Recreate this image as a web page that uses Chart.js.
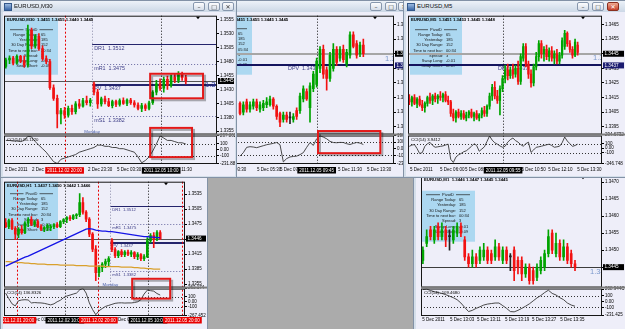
<!DOCTYPE html>
<html><head><meta charset="utf-8">
<script src="https://cdn.jsdelivr.net/npm/chart.js@4.4.1/dist/chart.umd.min.js"></script>
<style>
html,body{margin:0;padding:0}
body{width:625px;height:329px;overflow:hidden;background:#ababab;position:relative}
.win{position:absolute;background:#d5dfea;box-shadow:inset 0 0 0 1px #8392a6;overflow:hidden}
.tb{position:absolute;left:1px;right:1px;top:1px;height:11px;background:linear-gradient(#edf2f8,#ccd8e6);font:6px "Liberation Sans",Arial,sans-serif;color:#111;line-height:11px}
.ic{position:absolute;left:3px;top:2px;width:6px;height:6px;background:linear-gradient(#9ab9e0,#3a67a8);border:1px solid #34588a}
.tt{position:absolute;left:13px;top:0}
.btn{position:absolute;top:1px;width:12px;height:9px;border:1px solid #8797ad;border-radius:2px;background:linear-gradient(#fdfdfe,#d5dde8);box-sizing:border-box;font:6px "DejaVu Sans",sans-serif;text-align:center;line-height:7px;color:#333}
.btn.cl{background:linear-gradient(#f0aa92,#c6402a);border-color:#8a2f20;color:#fff}
canvas{position:absolute;background:#eeeef9}
</style></head>
<body>
<div class="win" id="w2" style="left:180px;top:0;width:231px;height:178px;z-index:1">
 <div class="tb"><span class="ic"></span><span class="tt">EURUSD,M15</span>
 <span class="btn" style="left:189px">&#8211;</span><span class="btn" style="left:204px">&#9633;</span><span class="btn" style="left:217px">&#10005;</span></div>
 <canvas id="c2" width="213" height="164" style="left:18px;top:12px;width:213px;height:164px"></canvas>
</div>
<div class="win" id="w1" style="left:0;top:0;width:237px;height:178px;z-index:3">
 <div class="tb"><span class="ic"></span><span class="tt">EURUSD,M30</span>
 <span class="btn" style="left:192px">&#8211;</span><span class="btn" style="left:207px">&#9633;</span><span class="btn" style="left:221px">&#10005;</span></div>
 <canvas id="c1" width="232" height="164" style="left:3px;top:12px;width:232px;height:164px"></canvas>
</div>
<div class="win" id="w3" style="left:403px;top:0;width:224px;height:178px;z-index:3">
 <div class="tb"><span class="ic"></span><span class="tt">EURUSD,M5</span>
 <span class="btn" style="left:173px">&#8211;</span><span class="btn" style="left:188px">&#9633;</span><span class="btn cl" style="left:203px">&#10005;</span></div>
 <canvas id="c3" width="219" height="164" style="left:3px;top:12px;width:219px;height:164px"></canvas>
</div>
<div class="win" id="w4" style="left:0;top:165px;width:208px;height:170px;z-index:1">
 <div class="tb"><span class="ic"></span><span class="tt">EURUSD,H1</span></div>
 <canvas id="c4" width="204" height="151" style="left:3px;top:13px;width:204px;height:151px"></canvas>
</div>
<div class="win" id="w5" style="left:413px;top:160px;width:214px;height:175px;z-index:1">
 <div class="tb"><span class="ic"></span><span class="tt">EURUSD,M1</span></div>
 <canvas id="c5" width="209" height="157" style="left:3px;top:12px;width:209px;height:157px"></canvas>
</div>
<script>
// ---------------- DATA ----------------
const INFO_LABELS = ['Range Today:','Yesterday:','30 Day Range:','Time to next bar:','Spread:','Swap Long:','Swap Short:'];
const PIVOT_NAMES = ['DR1','mR1','PV','mS1'];
const PIVOT_VALUES = [1.3512,1.3475,1.3437,1.3382];
const DPV_VALUE = 1.3437;

// M30 window
const M30_OHLC = [
[1.3471,1.3486,1.3468,1.3483],[1.3483,1.3490,1.3476,1.3486],[1.3486,1.3489,1.3474,1.3477],[1.3477,1.3492,1.3475,1.3489],
[1.3489,1.3491,1.3478,1.3481],[1.3481,1.3490,1.3470,1.3474],[1.3474,1.3545,1.3470,1.3536],[1.3536,1.3540,1.3503,1.3508],
[1.3508,1.3528,1.3504,1.3525],[1.3525,1.3530,1.3500,1.3503],[1.3503,1.3508,1.3482,1.3485],[1.3485,1.3490,1.3476,1.3480],
[1.3480,1.3484,1.3430,1.3433],[1.3433,1.3438,1.3410,1.3414],[1.3414,1.3420,1.3361,1.3386],[1.3386,1.3396,1.3368,1.3392],
[1.3392,1.3398,1.3378,1.3384],[1.3384,1.3400,1.3380,1.3396],[1.3396,1.3402,1.3385,1.3390],[1.3390,1.3408,1.3386,1.3404],
[1.3404,1.3412,1.3396,1.3400],[1.3400,1.3414,1.3398,1.3410],[1.3410,1.3418,1.3402,1.3406],[1.3406,1.3414,1.3400,1.3411],
[1.3440,1.3443,1.3420,1.3425],[1.3425,1.3430,1.3396,1.3404],[1.3404,1.3416,1.3400,1.3413],[1.3413,1.3418,1.3404,1.3408],
[1.3408,1.3414,1.3399,1.3401],[1.3401,1.3411,1.3397,1.3408],[1.3408,1.3411,1.3399,1.3403],[1.3403,1.3413,1.3400,1.3410],
[1.3410,1.3415,1.3403,1.3405],[1.3405,1.3413,1.3401,1.3411],[1.3411,1.3414,1.3403,1.3406],[1.3406,1.3410,1.3398,1.3402],
[1.3402,1.3406,1.3393,1.3396],[1.3396,1.3405,1.3390,1.3401],[1.3401,1.3404,1.3392,1.3396],[1.3396,1.3409,1.3393,1.3406],
[1.3406,1.3428,1.3403,1.3425],[1.3425,1.3446,1.3420,1.3440],[1.3440,1.3449,1.3428,1.3432],[1.3432,1.3452,1.3425,1.3448],
[1.3448,1.3454,1.3430,1.3437],[1.3437,1.3456,1.3434,1.3452],[1.3452,1.3458,1.3442,1.3446],[1.3446,1.3462,1.3442,1.3457],
[1.3457,1.3461,1.3446,1.3451],[1.3451,1.3455,1.3440,1.3445]];
const M30_CCI = [160,160,150,150,140,160,230,220,140,80,20,-40,-120,-200,-232,-160,-140,-120,-100,-80,
-40,-20,0,20,40,80,80,60,60,40,40,20,20,0,-20,-40,-120,-220,-180,-120,-20,100,237,200,160,160,140,120,120,100];
const M30_PRICE_TICKS = [1.3555,1.3530,1.3505,1.3480,1.3455,1.3430,1.3405,1.3380,1.3355];
const M30_CCI_TICKS = [237.8625,100,0,-100,-231.889];
const M30_CCI_LABELS = ['237.8625','100','0.00','-100','-231.889'];
const M30_INFO = ['65','185','152','20:34','3','-0.01','-0.09'];
const M30_TIME_TEXT = ['2 Dec 2011','2 Dec 15:30','2 Dec 23:30','5 Dec 03:30','5 Dec 11:30'];
const M30_TIME_POS = [-0.25,7.1,22.4,30.3,44.2];
const M30_CROSS_TEXT = ['2011.12.02 20:00','2011.12.05 10:00'];

// M15 window
const M15_OHLC = [
[1.3411,1.3412,1.3403,1.3404],[1.3405,1.3412,1.3403,1.3410],[1.3412,1.3414,1.3405,1.3407],[1.3407,1.3412,1.3405,1.3410],
[1.3409,1.3414,1.3407,1.3412],[1.3412,1.3414,1.3406,1.3408],[1.3407,1.3412,1.3405,1.3410],[1.3408,1.3413,1.3406,1.3411],
[1.3410,1.3415,1.3408,1.3412],[1.3410,1.3416,1.3409,1.3414],[1.3414,1.3415,1.3407,1.3409],[1.3409,1.3410,1.3400,1.3402],
[1.3404,1.3405,1.3395,1.3398],[1.3400,1.3405,1.3398,1.3403],[1.3403,1.3405,1.3398,1.3400],[1.3401,1.3405,1.3397,1.3401],
[1.3400,1.3404,1.3398,1.3402],[1.3406,1.3408,1.3400,1.3402],[1.3406,1.3418,1.3404,1.3416],[1.3414,1.3423,1.3412,1.3421],
[1.3419,1.3421,1.3413,1.3414],[1.3408,1.3425,1.3398,1.3423],[1.3421,1.3433,1.3419,1.3431],[1.3424,1.3442,1.3422,1.3440],
[1.3435,1.3450,1.3432,1.3448],[1.3448,1.3451,1.3428,1.3431],[1.3434,1.3436,1.3420,1.3428],[1.3428,1.3446,1.3426,1.3444],
[1.3435,1.3452,1.3433,1.3448],[1.3448,1.3450,1.3437,1.3439],[1.3442,1.3450,1.3440,1.3448],[1.3448,1.3451,1.3439,1.3441],
[1.3438,1.3448,1.3436,1.3446],[1.3444,1.3460,1.3442,1.3458],[1.3458,1.3460,1.3449,1.3450],[1.3452,1.3454,1.3442,1.3444],
[1.3445,1.3453,1.3443,1.3451],[1.3451,1.3455,1.3443,1.3445]];
const M15_CCI = [-113,-60,20,30,25,15,30,45,60,70,80,93,60,-200,-150,-125,-118,-113,-90,-60,
20,93,50,150,196,175,150,110,93,90,95,93,75,63,80,93,85,63];
const M15_PRICE_TICKS = [1.3465,1.3455,1.3445,1.3435,1.3425,1.3415,1.3405,1.3395];
const M15_CCI_TICKS = [196.1012,100,0,-100,-231.508];
const M15_CCI_LABELS = ['196.1012','100','0.00','-100','-231.508'];
const M15_INFO = ['65','185','152','05:34','3','-0.01','-0.09'];
const M15_TIME_TEXT = ['5 Dec 03:30','5 Dec 05:30','5 Dec 07:30','5 Dec 11:30','5 Dec 13:30'];
const M15_TIME_POS = [-5.4,5.1,12,29.4,38.1];
const M15_CROSS_TEXT = ['2011.12.05 09:45'];

// M5 window
const M5_OHLC = [
[1.3414,1.3417,1.3410,1.3412],[1.3412,1.3416,1.3409,1.3415],[1.3415,1.3417,1.3410,1.3411],[1.3411,1.3415,1.3408,1.3414],
[1.3414,1.3416,1.3409,1.3410],[1.3410,1.3413,1.3406,1.3408],[1.3408,1.3412,1.3405,1.3411],[1.3411,1.3416,1.3409,1.3415],
[1.3415,1.3418,1.3411,1.3413],[1.3413,1.3417,1.3410,1.3416],[1.3416,1.3418,1.3412,1.3414],[1.3414,1.3417,1.3411,1.3416],
[1.3416,1.3419,1.3413,1.3415],[1.3415,1.3418,1.3412,1.3417],[1.3417,1.3419,1.3412,1.3413],[1.3413,1.3416,1.3410,1.3412],
[1.3412,1.3413,1.3402,1.3404],[1.3404,1.3407,1.3399,1.3401],[1.3401,1.3406,1.3398,1.3405],[1.3405,1.3407,1.3401,1.3402],
[1.3402,1.3406,1.3400,1.3404],[1.3404,1.3406,1.3400,1.3401],[1.3401,1.3405,1.3399,1.3403],[1.3403,1.3406,1.3401,1.3405],
[1.3405,1.3407,1.3401,1.3402],[1.3402,1.3405,1.3399,1.3404],[1.3404,1.3406,1.3400,1.3401],[1.3401,1.3404,1.3399,1.3403],
[1.3403,1.3408,1.3401,1.3406],[1.3406,1.3409,1.3402,1.3404],[1.3404,1.3410,1.3402,1.3409],[1.3409,1.3418,1.3407,1.3416],
[1.3416,1.3424,1.3413,1.3422],[1.3422,1.3426,1.3414,1.3416],[1.3416,1.3420,1.3411,1.3413],[1.3413,1.3423,1.3403,1.3421],
[1.3421,1.3430,1.3419,1.3428],[1.3428,1.3437,1.3425,1.3434],[1.3434,1.3438,1.3427,1.3430],[1.3430,1.3436,1.3428,1.3434],
[1.3434,1.3438,1.3428,1.3431],[1.3431,1.3437,1.3429,1.3435],[1.3435,1.3440,1.3424,1.3426],[1.3426,1.3445,1.3424,1.3443],
[1.3442,1.3452,1.3440,1.3450],[1.3450,1.3452,1.3436,1.3438],[1.3438,1.3440,1.3428,1.3431],[1.3431,1.3434,1.3422,1.3425],
[1.3425,1.3438,1.3423,1.3436],[1.3436,1.3446,1.3434,1.3443],[1.3443,1.3454,1.3440,1.3452],[1.3452,1.3454,1.3442,1.3445],
[1.3445,1.3450,1.3440,1.3448],[1.3448,1.3451,1.3441,1.3443],[1.3443,1.3449,1.3440,1.3447],[1.3447,1.3450,1.3440,1.3442],
[1.3442,1.3447,1.3438,1.3445],[1.3445,1.3448,1.3438,1.3440],[1.3440,1.3446,1.3438,1.3444],[1.3444,1.3456,1.3442,1.3454],
[1.3450,1.3461,1.3448,1.3459],[1.3459,1.3460,1.3450,1.3452],[1.3452,1.3454,1.3446,1.3448],[1.3448,1.3450,1.3442,1.3444],
[1.3444,1.3455,1.3443,1.3453],[1.3451,1.3453,1.3444,1.3446]];
const M5_CCI = [40,70,80,-10,-120,-100,40,100,130,60,20,30,40,50,70,90,-250,-320,-200,-150,
-120,-80,-60,-10,40,100,60,-70,-20,30,150,272,180,120,89,50,20,43,134,190,
226,170,134,80,43,100,134,-95,-40,20,30,43,60,75,89,60,20,30,43,120,249,160,100,40,60,89];
const M5_PRICE_TICKS = [1.3465,1.3455,1.3445,1.3435,1.3425,1.3415,1.3405,1.3395];
const M5_CCI_TICKS = [294.6732,100,0,-100,-346.748];
const M5_CCI_LABELS = ['294.6732','100','0.00','-100','-346.748'];
const M5_INFO = ['65','185','152','00:34','3','-0.01','-0.09'];
const M5_TIME_TEXT = ['5 Dec 2011','5 Dec 06:00','5 Dec 08:15','5 Dec 10:50','5 Dec 12:10','5 Dec 13:30'];
const M5_TIME_POS = [0.3,11.9,21.5,43.3,53.6,64.8];
const M5_CROSS_TEXT = ['2011.12.05 09:55'];

// H1 window
const H1_OHLC = [
[1.3478,1.3486,1.3468,1.3470],[1.3470,1.3485,1.3466,1.3482],[1.3482,1.3486,1.3464,1.3466],[1.3466,1.3470,1.3444,1.3455],
[1.3455,1.3468,1.3448,1.3465],[1.3465,1.3472,1.3455,1.3458],[1.3458,1.3480,1.3456,1.3477],[1.3477,1.3488,1.3470,1.3484],
[1.3484,1.3490,1.3472,1.3475],[1.3475,1.3482,1.3470,1.3480],[1.3480,1.3484,1.3468,1.3470],[1.3470,1.3474,1.3462,1.3465],
[1.3465,1.3470,1.3460,1.3468],[1.3468,1.3475,1.3462,1.3472],[1.3468,1.3474,1.3462,1.3470],[1.3470,1.3476,1.3466,1.3474],
[1.3474,1.3478,1.3468,1.3470],[1.3470,1.3482,1.3468,1.3480],[1.3480,1.3486,1.3476,1.3484],[1.3484,1.3490,1.3478,1.3488],
[1.3488,1.3492,1.3482,1.3486],[1.3486,1.3494,1.3484,1.3492],[1.3492,1.3496,1.3486,1.3494],[1.3494,1.3536,1.3490,1.3518],
[1.3518,1.3528,1.3495,1.3499],[1.3499,1.3502,1.3480,1.3485],[1.3485,1.3488,1.3450,1.3455],[1.3455,1.3458,1.3420,1.3425],
[1.3425,1.3432,1.3362,1.3378],[1.3378,1.3392,1.3370,1.3388],[1.3388,1.3398,1.3380,1.3395],[1.3395,1.3405,1.3388,1.3400],
[1.3400,1.3410,1.3392,1.3406],[1.3442,1.3446,1.3420,1.3424],[1.3424,1.3428,1.3408,1.3412],[1.3412,1.3422,1.3408,1.3420],
[1.3420,1.3424,1.3410,1.3414],[1.3414,1.3422,1.3410,1.3419],[1.3419,1.3423,1.3412,1.3415],[1.3415,1.3422,1.3410,1.3418],
[1.3418,1.3420,1.3406,1.3410],[1.3410,1.3418,1.3404,1.3414],[1.3414,1.3416,1.3402,1.3406],[1.3406,1.3414,1.3402,1.3410],
[1.3410,1.3448,1.3408,1.3442],[1.3442,1.3456,1.3438,1.3452],[1.3452,1.3458,1.3428,1.3445],[1.3445,1.3462,1.3442,1.3458],
[1.3458,1.3462,1.3444,1.3446]];
const H1_MA_BLUE = [1.3391,1.3394,1.3397,1.3400,1.3403,1.3406,1.3409,1.3411,1.3414,1.3417,1.3420,1.3423,1.3426,1.3429,1.3432,
1.3435,1.3438,1.3441,1.3444,1.3447,1.3450,1.3453,1.3456,1.3459,1.3462,1.3465,1.3466,1.3465,1.3463,1.3462,1.3461,1.3461,
1.3460,1.3460,1.3459,1.3458,1.3457,1.3456,1.3455,1.3454,1.3453,1.3452,1.3451,1.3450,1.3450,1.3449,1.3449,1.3448,1.3448];
const H1_MA_ORANGE = [1.3400,1.3400,1.3399,1.3399,1.3398,1.3398,1.3397,1.3397,1.3396,1.3396,1.3395,1.3395,1.3395,1.3394,1.3394,
1.3394,1.3394,1.3393,1.3393,1.3393,1.3393,1.3393,1.3392,1.3392,1.3392,1.3392,1.3391,1.3391,1.3391,1.3391,1.3391,1.3390,
1.3390,1.3390,1.3390,1.3390,1.3389,1.3389,1.3389,1.3389,1.3388,1.3388,1.3387,1.3387,1.3386,1.3386,1.3385,1.3385,1.3385];
const H1_CCI = [168,60,-40,-79,20,35,40,35,-22,-15,-20,-22,-30,-45,-60,-40,0,30,80,111,
130,150,168,230,263,168,-22,-150,-250,-174,-130,-90,-70,-50,-30,-22,-20,-25,-22,-22,-15,0,40,150,225,215,206,160,130];
const H1_PRICE_TICKS = [1.3535,1.3505,1.3475,1.3445,1.3415,1.3385,1.3355];
const H1_CCI_TICKS = [263.174,100,0,-100,-267.452];
const H1_CCI_LABELS = ['263.174','100','0.00','-100','-267.452'];
const H1_INFO = ['65','185','152','20:34','3','-0.01','-0.09'];
const H1_TIME_TEXT = ['2 Dec 01:00','5 Dec 00:00'];
const H1_TIME_POS = [7,33.7];
const H1_CROSS_TEXT = ['2011.12.01 20:00','2011.12.02 10:00','2011.12.02 20:00','2011.12.05 10:00','2011.12.05 20:00'];

// M1 window
const M1_OHLC = [
[1.3447,1.3451,1.3446,1.3450],[1.3452,1.3456,1.3451,1.3454],[1.3456,1.3457,1.3453,1.3454],[1.3453,1.3457,1.3452,1.3456],
[1.3457,1.3458,1.3453,1.3454],[1.3454,1.3458,1.3453,1.3456],[1.3456,1.3457,1.3451,1.3453],[1.3454,1.3456,1.3450,1.3454],
[1.3453,1.3457,1.3452,1.3456],[1.3455,1.3458,1.3454,1.3457],[1.3457,1.3458,1.3454,1.3455],[1.3453,1.3454,1.3447,1.3448],
[1.3448,1.3449,1.3445,1.3446],[1.3446,1.3450,1.3445,1.3448],[1.3448,1.3449,1.3445,1.3446],[1.3447,1.3451,1.3446,1.3450],
[1.3448,1.3452,1.3447,1.3450],[1.3450,1.3451,1.3446,1.3447],[1.3449,1.3450,1.3446,1.3447],[1.3448,1.3453,1.3447,1.3451],
[1.3451,1.3452,1.3447,1.3448],[1.3447,1.3451,1.3446,1.3450],[1.3450,1.3451,1.3446,1.3447],[1.3448,1.3449,1.3444,1.3448],
[1.3450,1.3451,1.3441,1.3444],[1.3447,1.3448,1.3443,1.3445],[1.3447,1.3448,1.3441,1.3443],[1.3443,1.3446,1.3442,1.3445],
[1.3445,1.3446,1.3440,1.3441],[1.3444,1.3445,1.3440,1.3441],[1.3442,1.3446,1.3441,1.3445],[1.3444,1.3448,1.3443,1.3447],
[1.3445,1.3450,1.3444,1.3449],[1.3449,1.3456,1.3448,1.3454],[1.3455,1.3456,1.3449,1.3450],[1.3449,1.3455,1.3448,1.3452],
[1.3452,1.3453,1.3447,1.3448],[1.3448,1.3453,1.3447,1.3451],[1.3451,1.3452,1.3446,1.3447],[1.3449,1.3450,1.3445,1.3446],
[1.3446,1.3447,1.3444,1.3445]];
const M1_CCI = [200,209,185,165,150,136,115,90,64,30,-26,-100,-170,-150,-116,-90,-60,-44,-35,-26,
-26,-70,-116,-170,-175,-150,-116,-80,-40,10,60,100,150,190,136,110,64,30,-26,-60,-80];
const M1_PRICE_TICKS = [1.3470,1.3465,1.3460,1.3455,1.3450,1.3445];
const M1_CCI_TICKS = [208.944,100,0,-100,-231.425];
const M1_CCI_LABELS = ['208.944C','100','0.00','-100','-231.425'];
const M1_INFO = ['65','185','152','00:34','3','-0.01','-0.09'];
const M1_TIME_TEXT = ['5 Dec 2011','5 Dec 13:03','5 Dec 13:11','5 Dec 13:19','5 Dec 13:27','5 Dec 13:35'];
const M1_TIME_POS = [-0.2,7.1,14.2,21.6,28.7,36.1];

// ---------------- RENDER ----------------
const FONT = '"Liberation Sans", Arial, sans-serif';
const BULL = '#00a400', BEAR = '#f21212', DOJI = '#222222';
const NAVY = '#24246c', PIVC = '#3c3c86', DOTC = '#6868a0';
const RED_X = '#e80000', BLK_X = '#000000';

function pivots(from, size) {
  return PIVOT_NAMES.map((n, k) => ({
    v: PIVOT_VALUES[k], from, color: k % 2 ? DOTC : NAVY, w: n === 'PV' ? 2 : 1,
    dash: k % 2 ? [1, 2] : [], label: n + '  ' + PIVOT_VALUES[k].toFixed(4), ls: size
  }));
}
function times(text, pos) { return text.map((t, k) => ({ text: t, i: pos[k] })); }

function decor(c) {
  return {
    id: 'decor',
    beforeDatasetsDraw(ch) {
      const { ctx, chartArea: ca } = ch; const X = ch.scales.x, Y = ch.scales.y, C = ch.scales.cci;
      ctx.save();
      const b = c.box, bx = ca.left + b.dx, by = Y.top + b.dy;
      ctx.fillStyle = '#acd8f1'; ctx.fillRect(bx, by, b.w, b.h);
      ctx.fillStyle = '#151515'; ctx.font = '4px ' + FONT; ctx.textBaseline = 'middle';
      const hy = by + b.ty;
      ctx.textAlign = 'center'; ctx.fillText('PivotD', bx + b.w / 2, hy);
      ctx.strokeStyle = '#222'; ctx.lineWidth = 0.7;
      ctx.beginPath(); ctx.moveTo(bx + 5, hy); ctx.lineTo(bx + b.w / 2 - 8, hy);
      ctx.moveTo(bx + b.w / 2 + 8, hy); ctx.lineTo(bx + b.w - 5, hy); ctx.stroke();
      INFO_LABELS.forEach((t, k) => {
        const yy = hy + (k + 1) * b.step;
        ctx.textAlign = 'right'; ctx.fillText(t, bx + b.lx, yy);
        ctx.textAlign = 'left'; ctx.fillText(c.info[k], bx + b.lx + 3, yy);
      });
      ctx.save(); ctx.beginPath(); ctx.rect(ca.left, Y.top, ca.right - ca.left, Y.bottom - Y.top); ctx.clip();
      (c.hlines || []).forEach(h => {
        const w = h.w || 1;
        const py = Math.round(Y.getPixelForValue(h.v)) + (w % 2 ? 0.5 : 0);
        const x0 = h.from != null ? X.getPixelForValue(h.from) : ca.left;
        ctx.strokeStyle = h.color; ctx.lineWidth = w; ctx.setLineDash(h.dash || []);
        ctx.beginPath(); ctx.moveTo(x0, py); ctx.lineTo(ca.right, py); ctx.stroke(); ctx.setLineDash([]);
        if (h.label) {
          ctx.fillStyle = PIVC; ctx.font = (h.ls || 5.4) + 'px ' + FONT; ctx.textAlign = 'left'; ctx.textBaseline = 'top';
          ctx.fillText(h.label, h.lx != null ? X.getPixelForValue(h.lx) : x0 + 2, py + 1);
        }
      });
      ctx.restore();
      (c.vlines || []).forEach(v => {
        const px = Math.round(X.getPixelForValue(v.i)) + 0.5;
        ctx.strokeStyle = v.color; ctx.lineWidth = 1; ctx.setLineDash(v.dash);
        ctx.beginPath(); ctx.moveTo(px, Y.top); ctx.lineTo(px, v.full ? C.bottom : Y.bottom); ctx.stroke();
      });
      ctx.setLineDash([1, 2]); ctx.strokeStyle = '#333'; ctx.lineWidth = 1;
      [100, -100].forEach(L => {
        const py = Math.round(C.getPixelForValue(L)) + 0.5;
        ctx.beginPath(); ctx.moveTo(ca.left, py); ctx.lineTo(ca.right, py); ctx.stroke();
      });
      ctx.setLineDash([]);
      ctx.restore();
    },
    afterDatasetsDraw(ch) {
      const { ctx, chartArea: ca } = ch; const X = ch.scales.x, Y = ch.scales.y, C = ch.scales.cci;
      ctx.save();
      if (c.monday != null) {
        ctx.fillStyle = '#4a5fa8'; ctx.font = '4.4px ' + FONT; ctx.textAlign = 'center'; ctx.textBaseline = 'middle';
        ctx.fillText('Monday', X.getPixelForValue(c.monday), Y.bottom - 3);
      }
      (c.rlabels || []).forEach(r => {
        ctx.save(); ctx.beginPath(); ctx.rect(ca.left, Y.top, ca.right - ca.left - 1, Y.bottom - Y.top); ctx.clip();
        ctx.fillStyle = r.color; ctx.font = '7.5px ' + FONT; ctx.textAlign = 'left'; ctx.textBaseline = 'middle';
        ctx.fillText(r.text, ca.right - r.dx, Y.getPixelForValue(r.v) + r.dy); ctx.restore();
      });
      ctx.strokeStyle = '#161616'; ctx.lineWidth = 1;
      ctx.strokeRect(ca.left + 0.5, Y.top + 0.5, ca.right - ca.left - 1, Y.bottom - Y.top - 1);
      ctx.strokeRect(ca.left + 0.5, C.top + 1.5, ca.right - ca.left - 1, C.bottom - C.top - 2);
      ctx.fillStyle = '#7c7c7c'; ctx.fillRect(ca.left, Y.bottom - 1, ch.width - ca.left, 2);
      ctx.fillStyle = '#000'; ctx.beginPath();
      const mx = ca.right - 19, my = Y.top + 1;
      ctx.moveTo(mx - 2, my); ctx.lineTo(mx + 2, my); ctx.lineTo(mx, my + 2.5); ctx.closePath(); ctx.fill();
      ctx.fillStyle = '#000'; ctx.textAlign = 'left'; ctx.textBaseline = 'middle';
      ctx.font = 'bold 4.3px ' + FONT; ctx.fillText(c.header, ca.left + 3, Y.top + 4);
      ctx.font = '4.3px ' + FONT; ctx.fillText(c.cciName, ca.left + 3, C.top + 5);
      ctx.font = '4.6px ' + FONT;
      (c.pboxes || []).forEach(p => {
        const py = Y.getPixelForValue(p.v);
        ctx.fillStyle = p.bg; ctx.fillRect(ca.right + 1, py - 3, c.axisW - 2, 6);
        ctx.fillStyle = '#fff'; ctx.textAlign = 'left'; ctx.fillText(p.v.toFixed(4), ca.right + 2.5, py);
      });
      const ty = C.bottom + c.tOff;
      ctx.font = '4.5px ' + FONT;
      (c.times || []).forEach(t => {
        ctx.fillStyle = '#000'; ctx.textAlign = 'left'; ctx.fillText(t.text, X.getPixelForValue(t.i), ty);
      });
      (c.tboxes || []).forEach(t => {
        const px = X.getPixelForValue(t.i), w = ctx.measureText(t.text).width + 4;
        ctx.fillStyle = t.bg; ctx.fillRect(px - w / 2, ty - 3, w, 6.5);
        ctx.fillStyle = '#fff'; ctx.textAlign = 'center'; ctx.fillText(t.text, px, ty + 0.3);
      });
      (c.marks || []).forEach(m => {
        const x0 = X.getPixelForValue(m.x0), x1 = X.getPixelForValue(m.x1);
        const y0 = ch.scales[m.top[0]].getPixelForValue(m.top[1]), y1 = ch.scales[m.bot[0]].getPixelForValue(m.bot[1]);
        ctx.lineWidth = 2; ctx.strokeStyle = 'rgba(0,0,0,0.3)'; ctx.strokeRect(x0 + 2, y0 + 2, x1 - x0, y1 - y0);
        ctx.strokeStyle = '#e31818'; ctx.strokeRect(x0, y0, x1 - x0, y1 - y0);
      });
      ctx.restore();
    }
  };
}

function makeChart(id, c) {
  const col = c.ohlc.map(k => k[3] > k[0] ? BULL : (k[3] < k[0] ? BEAR : DOJI));
  const ds = [
    { type: 'bar', data: c.ohlc.map((k, i) => ({ x: i, y: [k[2], k[1]] })), backgroundColor: col, barThickness: 1, grouped: false, yAxisID: 'y', order: 5 },
    { type: 'bar', data: c.ohlc.map((k, i) => ({ x: i, y: [k[0], k[3]] })), backgroundColor: col, barThickness: c.bodyW || 2, minBarLength: 1, grouped: false, yAxisID: 'y', order: 4 },
    { type: 'line', data: c.cci.map((v, i) => ({ x: i, y: v })), borderColor: '#363636', borderWidth: 0.9, pointRadius: 0, tension: 0, yAxisID: 'cci', order: 1 }
  ];
  (c.ma || []).forEach(m => ds.push({ type: 'line', data: m.data.map((v, i) => ({ x: i, y: v })), borderColor: m.color, borderWidth: 1.3, pointRadius: 0, yAxisID: 'y', order: 3 }));
  const tickFont = { family: FONT, size: 4.5 };
  const axis = (min, max, ticks, labels, weight) => ({
    type: 'linear', position: 'right', stack: 'pane', stackWeight: weight, min, max,
    afterFit: a => { a.width = c.axisW; },
    afterBuildTicks: a => { a.ticks = ticks.map(v => ({ value: v })); },
    ticks: { autoSkip: false, padding: 1, color: '#000', font: tickFont, callback: (v, i) => labels[i] },
    grid: { drawOnChartArea: false, drawTicks: true, tickLength: 2, color: '#000', lineWidth: 1 },
    border: { display: false }
  });
  return new Chart(document.getElementById(id), {
    type: 'bar',
    data: { datasets: ds },
    options: {
      responsive: false, animation: false, devicePixelRatio: 1, events: [],
      layout: { padding: { left: c.padL, top: 1, right: 0, bottom: c.padB } },
      scales: {
        x: { type: 'linear', min: c.xMin, max: c.xMax, display: false, offset: false },
        y: axis(c.yMin, c.yMax, c.yTicks, c.yTicks.map(v => v.toFixed(4)), c.mainW),
        cci: axis(c.cciMin, c.cciMax, c.cciTicks, c.cciLabels, c.cciW)
      },
      plugins: { legend: { display: false }, tooltip: { enabled: false } }
    },
    plugins: [decor(c)]
  });
}

makeChart('c1', {
  ohlc: M30_OHLC, cci: M30_CCI, xMin: -0.5, xMax: 57.5, yMin: 1.33491, yMax: 1.35620,
  yTicks: M30_PRICE_TICKS, cciMin: -240, cciMax: 260, cciTicks: M30_CCI_TICKS, cciLabels: M30_CCI_LABELS,
  mainW: 121, cciW: 30, padL: 1, padB: 12, axisW: 18, tOff: 6.2, bodyW: 2,
  box: { dx: 1, dy: 2, w: 53, h: 57, ty: 12, step: 5.2, lx: 33 }, info: M30_INFO,
  header: 'EURUSD,M30  1.3451 1.3455 1.3440 1.3445', cciName: 'CCI(14) 85.1120',
  hlines: [{ v: 1.3445, color: '#555' }].concat(pivots(23.5, 5.4)),
  vlines: [{ i: 16, color: RED_X, dash: [2, 2], full: true }, { i: 23.5, color: '#8a8aa8', dash: [1, 2], full: false }, { i: 42.3, color: '#111', dash: [1, 2], full: true }],
  monday: 23.5,
  rlabels: [{ v: 1.3437, text: '1.3437', dx: 12, dy: -1, color: '#2e3e96' }],
  pboxes: [{ v: 1.3445, bg: BLK_X }],
  times: times(M30_TIME_TEXT, M30_TIME_POS),
  tboxes: [{ i: 16, text: M30_CROSS_TEXT[0], bg: RED_X }, { i: 42.3, text: M30_CROSS_TEXT[1], bg: BLK_X }],
  marks: [{ x0: 39.3, x1: 53.7, top: ['y', 1.3458], bot: ['y', 1.3414] }, { x0: 39.3, x1: 50.7, top: ['y', 1.3361], bot: ['cci', -123] }]
});
makeChart('c2', {
  ohlc: M15_OHLC, cci: M15_CCI, xMin: -12.3, xMax: 46.2, yMin: 1.33896, yMax: 1.34711,
  yTicks: M15_PRICE_TICKS, cciMin: -232, cciMax: 214, cciTicks: M15_CCI_TICKS, cciLabels: M15_CCI_LABELS,
  mainW: 121, cciW: 30, padL: 1, padB: 12, axisW: 17, tOff: 6, bodyW: 2,
  box: { dx: 1, dy: 1, w: 52, h: 58, ty: 12, step: 5.2, lx: 35 }, info: M15_INFO,
  header: 'EURUSD,M15  1.3451 1.3455 1.3445 1.3445', cciName: 'CCI(14) 63.2251',
  hlines: [{ v: 1.3445, color: '#a6a6a6', w: 2 }, { v: DPV_VALUE, color: '#14145e', w: 2, label: 'DPV  ' + DPV_VALUE.toFixed(4), lx: 14.4 }],
  vlines: [{ i: 23, color: '#111', dash: [1, 2], full: true }],
  rlabels: [{ v: 1.3445, text: '1.3445', dx: 9, dy: 5, color: '#7a98cc' }],
  pboxes: [{ v: 1.3445, bg: BLK_X }, { v: DPV_VALUE, bg: '#1c1c70' }],
  times: times(M15_TIME_TEXT, M15_TIME_POS),
  tboxes: [{ i: 23, text: M15_CROSS_TEXT[0], bg: BLK_X }],
  marks: [{ x0: 23.4, x1: 42.1, top: ['y', 1.3392], bot: ['cci', -68] }]
});
makeChart('c3', {
  ohlc: M5_OHLC, cci: M5_CCI, xMin: -0.5, xMax: 74.4, yMin: 1.33896, yMax: 1.34711,
  yTicks: M5_PRICE_TICKS, cciMin: -355, cciMax: 305, cciTicks: M5_CCI_TICKS, cciLabels: M5_CCI_LABELS,
  mainW: 121, cciW: 30, padL: 2, padB: 12, axisW: 23, tOff: 6, bodyW: 1.6,
  box: { dx: 2, dy: 1, w: 52, h: 58, ty: 13, step: 5.2, lx: 33 }, info: M5_INFO,
  header: 'EURUSD,M5  1.3451 1.3453 1.3445 1.3448', cciName: 'CCI(14) 3.9412',
  hlines: [{ v: 1.3445, color: '#a6a6a6', w: 2 }, { v: DPV_VALUE, color: '#14145e', w: 2, label: 'DPV  ' + DPV_VALUE.toFixed(4), lx: 34.2 }],
  vlines: [{ i: 36.2, color: '#111', dash: [1, 2], full: true }],
  rlabels: [{ v: 1.3445, text: '1.3445', dx: 9, dy: 4, color: '#7a98cc' }],
  pboxes: [{ v: 1.3445, bg: BLK_X }, { v: DPV_VALUE, bg: '#1c1c70' }],
  times: times(M5_TIME_TEXT, M5_TIME_POS),
  tboxes: [{ i: 36.2, text: M5_CROSS_TEXT[0], bg: BLK_X }]
});
makeChart('c4', {
  ohlc: H1_OHLC, cci: H1_CCI, xMin: -0.5, xMax: 55.7, yMin: 1.33480, yMax: 1.35597,
  yTicks: H1_PRICE_TICKS, cciMin: -275, cciMax: 275, cciTicks: H1_CCI_TICKS, cciLabels: H1_CCI_LABELS,
  mainW: 108, cciW: 29, padL: 1, padB: 13, axisW: 22, tOff: 4, bodyW: 2,
  ma: [{ data: H1_MA_BLUE, color: '#1414e6' }, { data: H1_MA_ORANGE, color: '#d9a02c' }],
  box: { dx: 1, dy: 0, w: 53, h: 58, ty: 12, step: 5.2, lx: 33 }, info: H1_INFO,
  header: 'EURUSD,H1  1.3437 1.3450 1.3442 1.3446', cciName: 'CCI(14) 136.8326',
  hlines: [{ v: 1.3446, color: '#555' }].concat(pivots(32.5, 4.2)),
  vlines: [{ i: 3.5, color: RED_X, dash: [2, 2], full: true }, { i: 18.4, color: '#111', dash: [1, 2], full: true },
           { i: 28.8, color: RED_X, dash: [2, 2], full: true }, { i: 32.5, color: '#8a8aa8', dash: [1, 2], full: false },
           { i: 44.2, color: '#111', dash: [1, 2], full: true }, { i: 54.9, color: RED_X, dash: [2, 2], full: true }],
  monday: 32.5,
  pboxes: [{ v: 1.3446, bg: BLK_X }],
  times: times(H1_TIME_TEXT, H1_TIME_POS),
  tboxes: [{ i: 3.5, text: H1_CROSS_TEXT[0], bg: RED_X }, { i: 18.4, text: H1_CROSS_TEXT[1], bg: BLK_X }, { i: 28.8, text: H1_CROSS_TEXT[2], bg: RED_X },
           { i: 44.2, text: H1_CROSS_TEXT[3], bg: BLK_X }, { i: 54.9, text: H1_CROSS_TEXT[4], bg: RED_X }],
  marks: [{ x0: 39.3, x1: 51.1, top: ['y', 1.33656], bot: ['cci', 62] }]
});
makeChart('c5', {
  ohlc: M1_OHLC, cci: M1_CCI, xMin: -0.5, xMax: 47.1, yMin: 1.34390, yMax: 1.34719,
  yTicks: M1_PRICE_TICKS, cciMin: -245, cciMax: 235, cciTicks: M1_CCI_TICKS, cciLabels: M1_CCI_LABELS,
  mainW: 114, cciW: 29, padL: 5, padB: 13, axisW: 23, tOff: 4, bodyW: 2,
  box: { dx: 0, dy: 15, w: 54, h: 51, ty: 4, step: 5.3, lx: 35 }, info: M1_INFO,
  header: 'EURUSD,M1  1.3446 1.3447 1.3445 1.3445', cciName: 'CCI(14) -109.4680',
  hlines: [{ v: 1.3445, color: '#3c3c3c' }],
  rlabels: [{ v: 1.3445, text: '1.3445', dx: 12, dy: 5, color: '#7a98cc' }],
  pboxes: [{ v: 1.3445, bg: BLK_X }],
  times: times(M1_TIME_TEXT, M1_TIME_POS)
});
</script>
</body></html>
